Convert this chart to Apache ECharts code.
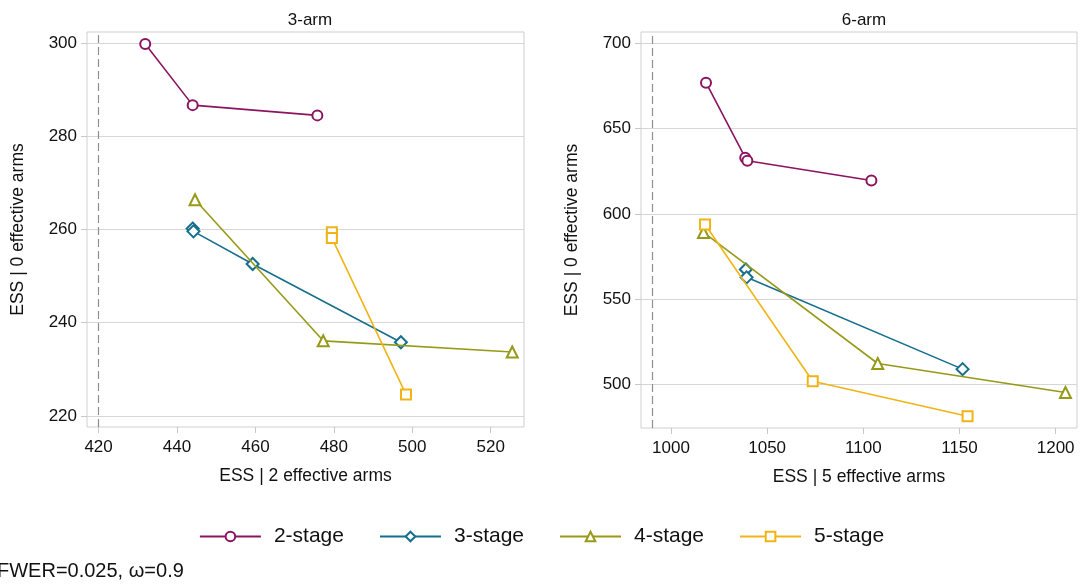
<!DOCTYPE html>
<html>
<head>
<meta charset="utf-8">
<script src="https://cdn.jsdelivr.net/npm/echarts@6/dist/echarts.min.js"></script>
<style>
html,body{margin:0;padding:0;background:#fff;}
#chart{width:1083px;height:587px;}
</style>
</head>
<body>
<div id="chart"></div>
<script>
// ---- data ----
const panelTitles = ['3-arm', '6-arm'];
const stageNames = ['2-stage', '3-stage', '4-stage', '5-stage'];
const xAxisNames = ['ESS | 2 effective arms', 'ESS | 5 effective arms'];
const yAxisName = 'ESS | 0 effective arms';
const footnote = 'FWER=0.025, \u03c9=0.9';

const arm3_stage2 = [[431.9, 299.8], [444.0, 286.7], [475.8, 284.5]];
const arm3_stage3 = [[444.0, 260.2], [444.2, 259.6], [459.3, 252.6], [497.1, 235.8]];
const arm3_stage4 = [[444.6, 266.4], [477.3, 236.1], [525.5, 233.7]];
const arm3_stage5 = [[479.5, 259.4], [479.5, 258.2], [498.4, 224.6]];

const arm6_stage2 = [[1018.2, 676.9], [1038.6, 632.9], [1039.7, 631.1], [1104.2, 619.6]];
const arm6_stage3 = [[1038.9, 567.4], [1039.3, 562.8], [1151.6, 509.0]];
const arm6_stage4 = [[1016.9, 589.1], [1107.5, 512.3], [1205.1, 495.3]];
const arm6_stage5 = [[1017.7, 593.8], [1073.7, 501.9], [1154.2, 481.4]];

const xTicks3 = [420, 440, 460, 480, 500, 520];
const yTicks3 = [220, 240, 260, 280, 300];
const xTicks6 = [1000, 1050, 1100, 1150, 1200];
const yTicks6 = [500, 550, 600, 650, 700];

const xRange3 = [417.05, 528.5];
const yRange3 = [217.6, 302.4];
const xRange6 = [984.4, 1211.1];
const yRange6 = [474.5, 706.6];

const refLineX = [420, 990];

// ---- styling ----
const colors = ['#8c1360', '#156f8d', '#979a17', '#f1b416'];
const symbols = ['emptyCircle', 'emptyDiamond', 'emptyTriangle', 'emptyRect'];
const symbolSizes = [10, 12, 11, 10];
const FONT = '"Liberation Sans", Arial, sans-serif';
const TXT = '#111';
const GRIDC = '#d6d6d6';

const grids = [
  {left: 87, top: 32, width: 437, height: 395},
  {left: 641, top: 32, width: 436, height: 396}
];

function plain(v) { return String(v); }

function xAxis(i, range, ticks) {
  return {
    type: 'value', gridIndex: i, min: range[0], max: range[1],
    name: xAxisNames[i], nameLocation: 'middle', nameGap: 40,
    nameTextStyle: {fontFamily: FONT, fontSize: 17.5, color: TXT},
    axisLine: {show: false},
    axisTick: {show: true, length: 6, lineStyle: {color: '#c8c8c8'}, customValues: ticks},
    axisLabel: {fontFamily: FONT, fontSize: 17, color: TXT, margin: 12, customValues: ticks, formatter: plain},
    splitLine: {show: false}
  };
}
function yAxis(i, range, ticks) {
  return {
    type: 'value', gridIndex: i, min: range[0], max: range[1],
    name: yAxisName, nameLocation: 'middle', nameGap: 60,
    nameTextStyle: {fontFamily: FONT, fontSize: 17.5, color: TXT},
    axisLine: {show: false},
    axisTick: {show: true, length: 6, lineStyle: {color: '#c8c8c8'}, customValues: ticks},
    axisLabel: {fontFamily: FONT, fontSize: 17, color: TXT, margin: 10, customValues: ticks, formatter: plain},
    splitLine: {show: true, lineStyle: {color: GRIDC, width: 1}}
  };
}

const panelData = [
  [arm3_stage2, arm3_stage3, arm3_stage4, arm3_stage5],
  [arm6_stage2, arm6_stage3, arm6_stage4, arm6_stage5]
];

const series = [];
panelData.forEach(function (sets, p) {
  sets.forEach(function (d, s) {
    const ser = {
      type: 'line', name: stageNames[s], xAxisIndex: p, yAxisIndex: p,
      data: d, symbol: symbols[s], symbolSize: symbolSizes[s],
      showAllSymbol: true, animation: false, z: 3 + s,
      lineStyle: {color: colors[s], width: 1.6},
      itemStyle: {color: colors[s], borderColor: colors[s], borderWidth: 1.6}
    };
    if (s === 0) {
      ser.markLine = {
        silent: true, symbol: 'none', animation: false,
        label: {show: false},
        lineStyle: {color: '#8f8f8f', type: [8, 4], width: 1.2},
        data: [{xAxis: refLineX[p]}]
      };
    }
    series.push(ser);
  });
});

const chart = echarts.init(document.getElementById('chart'), null, {renderer: 'canvas'});
chart.setOption({
  backgroundColor: '#fff',
  animation: false,
  title: [
    {text: panelTitles[0], left: 305, top: 7, textAlign: 'center',
     textStyle: {fontFamily: FONT, fontSize: 17, fontWeight: 'normal', color: TXT}},
    {text: panelTitles[1], left: 859, top: 7, textAlign: 'center',
     textStyle: {fontFamily: FONT, fontSize: 17, fontWeight: 'normal', color: TXT}}
  ],
  grid: grids.map(function (g) {
    return Object.assign({show: true, borderColor: '#cfcfcf', borderWidth: 1, backgroundColor: '#fff'}, g);
  }),
  xAxis: [xAxis(0, xRange3, xTicks3), xAxis(1, xRange6, xTicks6)],
  yAxis: [yAxis(0, yRange3, yTicks3), yAxis(1, yRange6, yTicks6)],
  legend: {
    data: stageNames, left: 'center', top: 521,
    itemWidth: 61, itemHeight: 12, itemGap: 35,
    textStyle: {fontFamily: FONT, fontSize: 21, color: TXT, padding: [0, 0, 0, 8]}
  },
  graphic: [{
    type: 'text', left: -3, top: 561,
    style: {text: footnote, fontFamily: FONT, fontSize: 20, fill: TXT}
  }],
  series: series
});
</script>
</body>
</html>
